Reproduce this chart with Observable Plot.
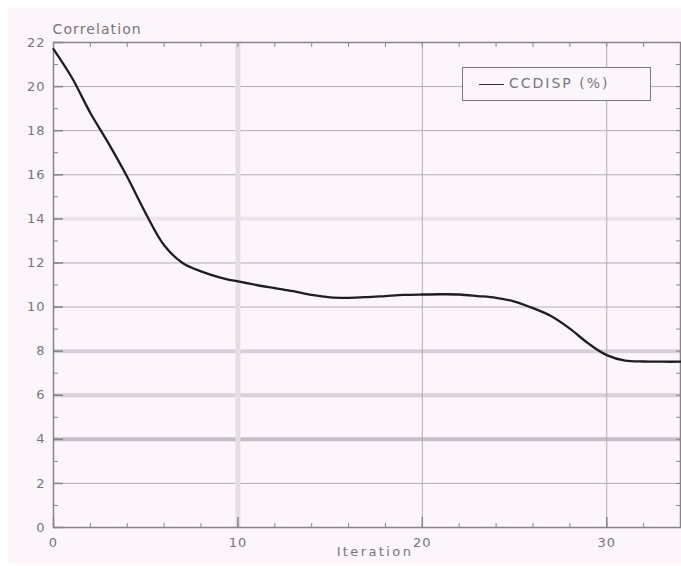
<!DOCTYPE html>
<html>
<head>
<meta charset="utf-8">
<script src="https://cdn.jsdelivr.net/npm/d3@7"></script>
<script src="https://cdn.jsdelivr.net/npm/@observablehq/plot@0.6"></script>
<style>
  body { margin: 0; background: #ffffff; }
  #wrap { position: relative; width: 681px; height: 566px; overflow: hidden; }
  #bg { position: absolute; left: 8px; top: 8px; right: 0; bottom: 3px; background: #fdf5fc; }
  #chart { position: absolute; left: 0; top: 0; }
  #legend {
    position: absolute; left: 462px; top: 67px; width: 187px; height: 32px;
    border: 1.5px solid #7e787e; background: #fdf5fc;
    font-family: "DejaVu Sans", sans-serif; font-size: 14px; letter-spacing: 2px; color: #7a747a;
  }
  #legend .swatch { position: absolute; left: 16px; top: 16px; width: 25px; height: 0; border-top: 1.5px solid #333; }
  #legend .label { position: absolute; left: 46px; top: 7px; white-space: nowrap; }
  .ylab text { letter-spacing: 1.1px; }
  .xlab text { letter-spacing: 2.4px; }
  .ticklab text { letter-spacing: 1px; }
</style>
</head>
<body>
<div id="wrap">
  <div id="bg"></div>
  <div id="chart"></div>
  <div id="legend"><div class="swatch"></div><div class="label">CCDISP (%)</div></div>
</div>
<script>
const iterations = [0,1,2,3,4,5,6,7,8,9,10,11,12,13,14,15,16,17,18,19,20,21,22,23,24,25,26,27,28,29,30,31,32,33,34];
const ccdisp = [21.7,20.4,18.8,17.4,15.9,14.25,12.8,12.0,11.62,11.35,11.16,11.0,10.86,10.72,10.55,10.44,10.42,10.45,10.5,10.55,10.57,10.58,10.57,10.5,10.42,10.25,9.95,9.58,9.02,8.35,7.82,7.57,7.53,7.52,7.52];
const yTicks = [0,2,4,6,8,10,12,14,16,18,20,22];
const xTicks = [0,10,20,30];
const xLabel = "Iteration";
const yLabel = "Correlation";

const data = iterations.map((it, i) => ({iteration: it, value: ccdisp[i]}));

const axisColor = "#8a848a";
const gridColor = "#b3abb3";
const blank = () => "";

const chart = Plot.plot({
  width: 681,
  height: 566,
  marginLeft: 53,
  marginRight: 1,
  marginTop: 42,
  marginBottom: 39,
  style: {background: "transparent", fontFamily: "DejaVu Sans, sans-serif", fontSize: "12px", color: "#7a747a"},
  x: {domain: [0, 34]},
  y: {domain: [0, 22]},
  marks: [
    // gridlines
    Plot.ruleY(yTicks.filter(d => d > 0 && d < 22), {stroke: gridColor, strokeWidth: 1}),
    Plot.ruleY(yTicks.filter(d => d === 14), {stroke: "#ece3ec", strokeWidth: 4}),
    Plot.ruleY(yTicks.filter(d => d === 6 || d === 8), {stroke: "#d8cfd8", strokeWidth: 4}),
    Plot.ruleY(yTicks.filter(d => d === 4), {stroke: "#c6bec6", strokeWidth: 4}),
    Plot.ruleX(xTicks.filter(d => d > 0), {stroke: gridColor, strokeWidth: 1}),
    Plot.ruleX(xTicks.filter(d => d === 10), {stroke: "#e6dde6", strokeWidth: 5}),
    // frame
    Plot.frame({stroke: axisColor, strokeWidth: 1.5}),
    // ticks
    Plot.axisY({ticks: d3.range(0, 23, 1), tickSize: -5, tickFormat: blank, label: null, stroke: axisColor}),
    Plot.axisY({ticks: yTicks, tickSize: -10, tickFormat: blank, label: null, stroke: axisColor, strokeWidth: 1.5}),
    Plot.axisY({anchor: "right", ticks: d3.range(0, 23, 1), tickSize: -5, tickFormat: blank, label: null, stroke: axisColor}),
    Plot.axisX({anchor: "top", ticks: d3.range(0, 35, 2), tickSize: -4, tickFormat: blank, label: null, stroke: axisColor}),
    Plot.axisX({anchor: "bottom", ticks: d3.range(0, 35, 2), tickSize: -4, tickFormat: blank, label: null, stroke: axisColor}),
    Plot.axisX({anchor: "bottom", ticks: xTicks, tickSize: -10, tickFormat: blank, label: null, stroke: axisColor, strokeWidth: 1.5}),
    // tick labels
    Plot.axisY({ticks: yTicks, tickSize: 0, tickPadding: 8, label: null, fill: "#7a747a", fontSize: 13, className: "ticklab"}),
    Plot.axisX({ticks: xTicks, tickSize: 0, tickPadding: 10, label: null, fill: "#7a747a", fontSize: 13, className: "ticklab"}),
    // data line
    Plot.line(data, {x: "iteration", y: "value", stroke: "#1e1e1e", strokeWidth: 2.3, curve: "catmull-rom"}),
    // axis titles
    Plot.text([xLabel], {frameAnchor: "bottom", dy: 28, dx: 8, fill: "#7a747a", fontSize: 13, text: d => d, className: "xlab"}),
    Plot.text([yLabel], {frameAnchor: "top-left", textAnchor: "start", dy: -18, dx: -1, fill: "#7a747a", fontSize: 14, text: d => d, className: "ylab"})
  ]
});
document.getElementById("chart").appendChild(chart);
</script>
</body>
</html>
